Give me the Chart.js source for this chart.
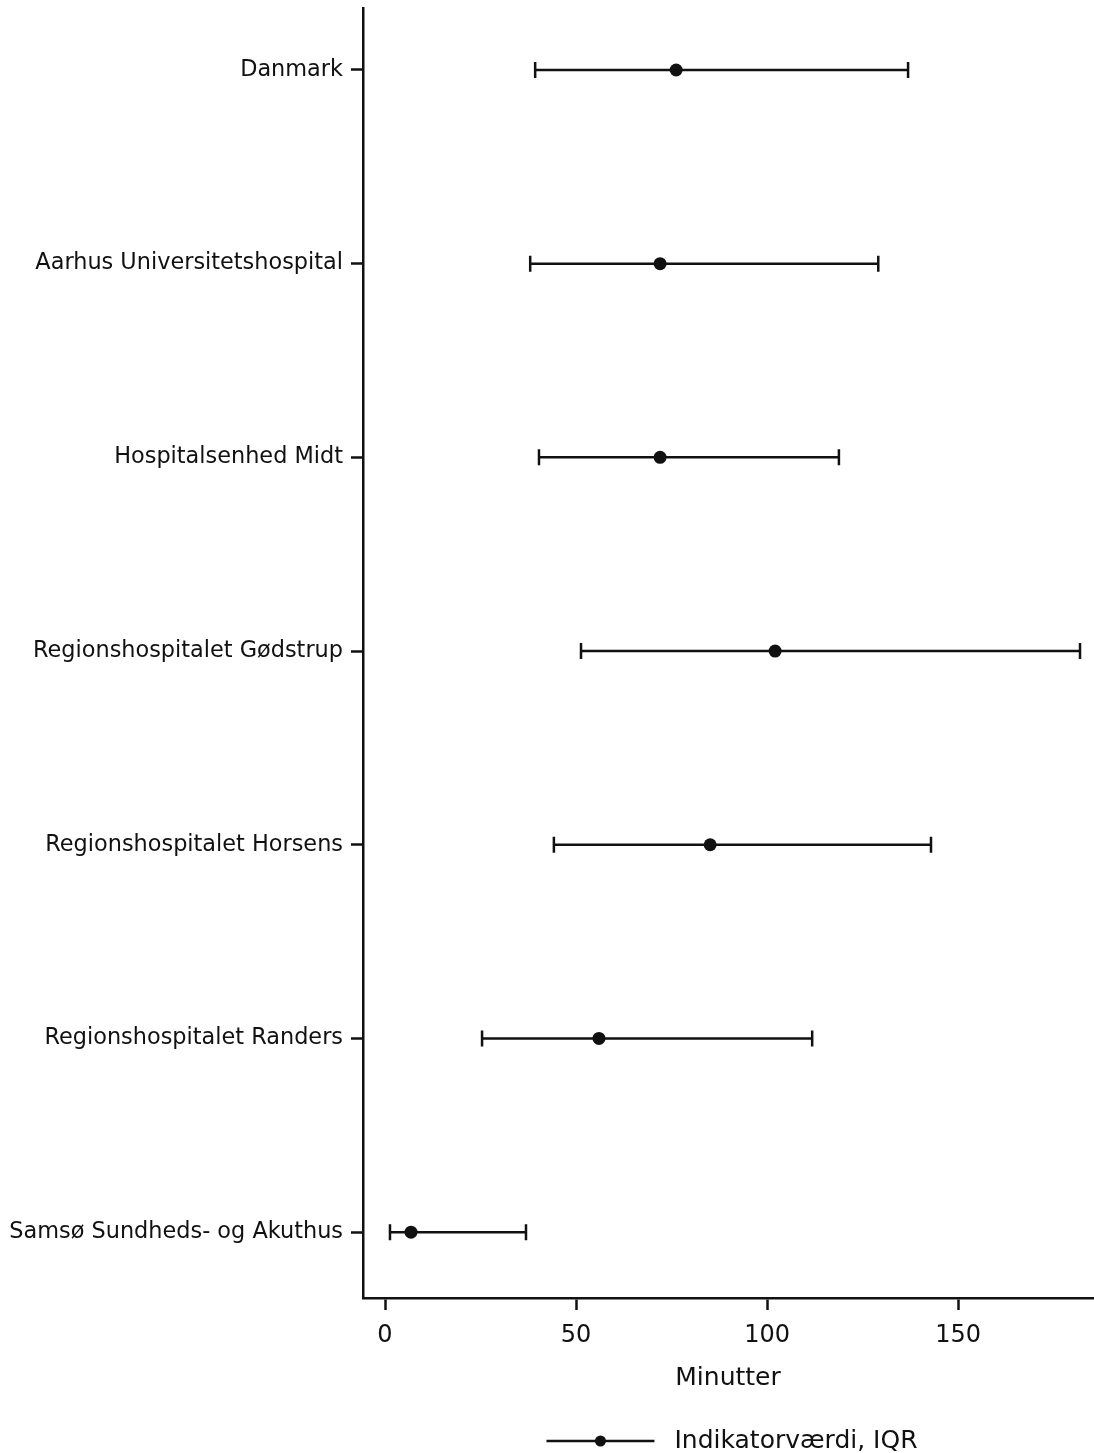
<!DOCTYPE html>
<html>
<head>
<meta charset="utf-8">
<script src="https://cdn.jsdelivr.net/npm/chart.js@4"></script>
<style>
    html, body { margin: 0; padding: 0; background: #fff; }
    #wrap { width: 1094px; height: 1453px; position: relative; }
</style>
</head>
<body>
<div id="wrap"><canvas id="ciChart"></canvas></div>
<script>
const labelsUnits = [
    'Danmark',
    'Aarhus Universitetshospital',
    'Hospitalsenhed Midt',
    'Regionshospitalet Gødstrup',
    'Regionshospitalet Horsens',
    'Regionshospitalet Randers',
    'Samsø Sundheds- og Akuthus'
];

const medianValues = [76.2, 72.0, 72.0, 102.1, 85.1, 56.0, 6.8];
const lowerValues = [39.3, 38.0, 40.3, 51.3, 44.2, 25.4, 1.3];
const upperValues = [136.9, 129.1, 118.8, 181.9, 142.9, 111.8, 36.9];

const xTicks = [0, 50, 100, 150];

const legendLabel = 'Indikatorværdi, IQR';
const axisTitle = 'Minutter';

const fontFamily = '"DejaVu Sans", sans-serif';
const ink = '#111';

const errorBars = {
    id: 'errorBars',
    beforeDatasetsDraw(chart) {
        const ctx = chart.ctx;
        const x = chart.scales.x;
        const y = chart.scales.y;
        ctx.save();
        ctx.strokeStyle = ink;
        ctx.lineWidth = 2.5;
        labelsUnits.forEach((name, i) => {
            const py = y.getPixelForValue(i);
            const x0 = x.getPixelForValue(lowerValues[i]);
            const x1 = x.getPixelForValue(upperValues[i]);
            ctx.beginPath();
            ctx.moveTo(x0, py);
            ctx.lineTo(x1, py);
            ctx.moveTo(x0, py - 8);
            ctx.lineTo(x0, py + 8);
            ctx.moveTo(x1, py - 8);
            ctx.lineTo(x1, py + 8);
            ctx.stroke();
        });
        ctx.restore();
    },
    afterDraw(chart) {
        // legend below the axis title
        const ctx = chart.ctx;
        const area = chart.chartArea;
        ctx.save();
        ctx.font = '25px ' + fontFamily;
        const textW = ctx.measureText(legendLabel).width;
        const lineW = 108;
        const gap = 20;
        const total = lineW + gap + textW;
        const left = (area.left + area.right) / 2 - total / 2 + 4;
        const ly = 1441;
        ctx.strokeStyle = ink;
        ctx.lineWidth = 2.5;
        ctx.beginPath();
        ctx.moveTo(left, ly);
        ctx.lineTo(left + lineW, ly);
        ctx.stroke();
        ctx.fillStyle = ink;
        ctx.beginPath();
        ctx.arc(left + lineW / 2, ly, 5.5, 0, Math.PI * 2);
        ctx.fill();
        ctx.textBaseline = 'middle';
        ctx.textAlign = 'left';
        ctx.fillText(legendLabel, left + lineW + gap, ly);
        ctx.restore();
    }
};

const dataChart = {
    datasets: [{
        label: legendLabel,
        data: medianValues.map((v, i) => ({ x: v, y: i })),
        backgroundColor: ink,
        borderColor: ink,
        pointRadius: 6.5,
        pointBorderWidth: 0,
        showLine: false
    }]
};

const configChart = {
    type: 'scatter',
    data: dataChart,
    options: {
        responsive: true,
        maintainAspectRatio: false,
        animation: false,
        layout: {
            autoPadding: false,
            padding: { top: 8, right: 1, left: 0, bottom: 0 }
        },
        plugins: {
            legend: { display: false },
            tooltip: { enabled: false }
        },
        scales: {
            x: {
                type: 'linear',
                min: -5.76,
                max: 185.3,
                afterBuildTicks: axis => { axis.ticks = xTicks.map(v => ({ value: v })); },
                afterFit: axis => {
                    axis.height = 155;
                    axis.paddingLeft = 0;
                    axis.paddingRight = 0;
                },
                ticks: {
                    color: ink,
                    padding: 11,
                    font: { family: fontFamily, size: 24 }
                },
                grid: {
                    display: true,
                    drawOnChartArea: false,
                    drawTicks: true,
                    tickLength: 12,
                    tickWidth: 2.5,
                    tickColor: ink
                },
                border: { display: true, color: ink, width: 2.5 },
                title: {
                    display: true,
                    text: axisTitle,
                    color: ink,
                    font: { family: fontFamily, size: 25 },
                    padding: { top: 0, bottom: 60 }
                }
            },
            y: {
                type: 'linear',
                reverse: true,
                min: -0.32,
                max: 6.34,
                afterBuildTicks: axis => { axis.ticks = labelsUnits.map((n, i) => ({ value: i })); },
                afterFit: axis => {
                    axis.width = 363;
                    axis.paddingTop = 0;
                    axis.paddingBottom = 0;
                },
                ticks: {
                    color: ink,
                    padding: 8,
                    font: { family: fontFamily, size: 22.4 },
                    callback: v => labelsUnits[v]
                },
                grid: {
                    display: true,
                    drawOnChartArea: false,
                    drawTicks: true,
                    tickLength: 12,
                    tickWidth: 2.5,
                    tickColor: ink
                },
                border: { display: true, color: ink, width: 2.5 }
            }
        }
    },
    plugins: [errorBars]
};

const ciChart = new Chart(
    document.getElementById('ciChart'),
    configChart
);
</script>
</body>
</html>
